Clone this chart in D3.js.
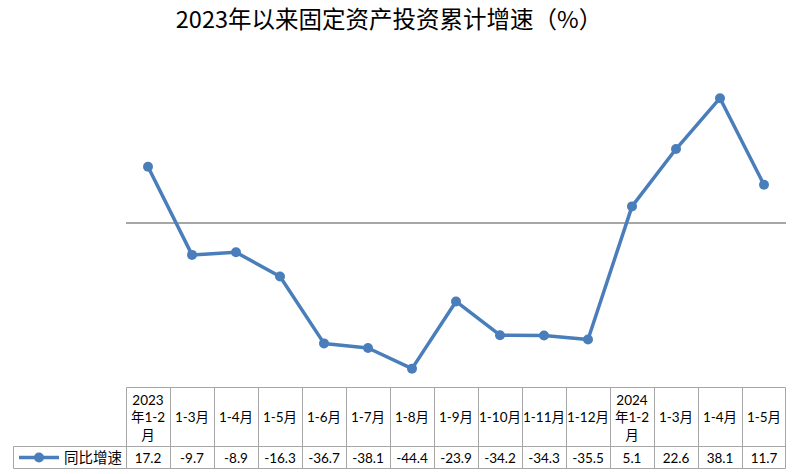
<!DOCTYPE html>
<html><head><meta charset="utf-8">
<script src="https://cdn.jsdelivr.net/npm/d3@7"></script>
<style>body{margin:0;background:#fff}svg{display:block}</style>
</head><body><svg id="c" width="800" height="474"></svg>
<script>
const title = "2023年以来固定资产投资累计增速（%）";
const seriesName = "同比增速";
const categories = [["2023","年1-2","月"],["1-3月"],["1-4月"],["1-5月"],["1-6月"],["1-7月"],["1-8月"],["1-9月"],["1-10月"],["1-11月"],["1-12月"],["2024","年1-2","月"],["1-3月"],["1-4月"],["1-5月"]];
const values = [17.2,-9.7,-8.9,-16.3,-36.7,-38.1,-44.4,-23.9,-34.2,-34.3,-35.5,5.1,22.6,38.1,11.7];

(function(){
const svg = d3.select("#c");
const font = "'Noto Sans CJK SC','Noto Sans',sans-serif";
const tfont = "Lato,'Noto Sans CJK SC',sans-serif";
const color = "#4a7ebb";
const gridColor = "#a6a6a6";

const x = d3.scaleBand().domain(d3.range(categories.length)).range([126,786]);
const y = d3.scaleLinear().domain([-50,40]).range([387,92]);

svg.append("text").attr("x",389).attr("y",28).attr("text-anchor","middle")
  .attr("font-family",font).attr("font-size",23.5).attr("fill","#000").text(title);

// zero line
svg.append("line").attr("x1",x.range()[0]).attr("x2",x.range()[1])
  .attr("y1",y(0)).attr("y2",y(0)).attr("stroke","#888").attr("stroke-width",1.5);

const line = d3.line().x((d,i)=>x(i)+x.bandwidth()/2).y(d=>y(d));
svg.append("path").datum(values).attr("d",line).attr("fill","none")
  .attr("stroke",color).attr("stroke-width",3.5).attr("stroke-linejoin","round");
svg.selectAll("circle.pt").data(values).join("circle").attr("class","pt")
  .attr("cx",(d,i)=>x(i)+x.bandwidth()/2).attr("cy",d=>y(d)).attr("r",5).attr("fill",color);

// table
const tTop = 387.5, tMid = 446.5, tBot = 468.5, legL = 13.5;
const g = svg.append("g").attr("stroke",gridColor).attr("stroke-width",1).attr("fill","none");
g.append("line").attr("x1",126.5).attr("x2",785.5).attr("y1",tTop).attr("y2",tTop);
g.append("line").attr("x1",legL).attr("x2",785.5).attr("y1",tMid).attr("y2",tMid);
g.append("line").attr("x1",legL).attr("x2",785.5).attr("y1",tBot).attr("y2",tBot);
g.append("line").attr("x1",legL).attr("x2",legL).attr("y1",tMid).attr("y2",tBot);
const bounds = x.domain().map(i=>Math.round(x(i))+0.5).concat([785.5]);
bounds.forEach(b=>g.append("line").attr("x1",b).attr("x2",b).attr("y1",tTop).attr("y2",tBot));

const tg = svg.append("g").attr("font-family",tfont).attr("font-size",13.5).attr("fill","#000").attr("text-anchor","middle");
categories.forEach((lines,i)=>{
  const cx = x(i)+x.bandwidth()/2;
  const lh = 17.5;
  const y0 = (tTop+tMid)/2 - (lines.length-1)*lh/2 + 5;
  lines.forEach((t,j)=>tg.append("text").attr("x",cx).attr("y",y0+j*lh).text(t));
});
values.forEach((v,i)=>{
  tg.append("text").attr("x",x(i)+x.bandwidth()/2).attr("y",(tMid+tBot)/2+5).text(v.toFixed(1));
});
// legend
const ly = (tMid+tBot)/2;
svg.append("line").attr("x1",19).attr("x2",59).attr("y1",ly).attr("y2",ly).attr("stroke",color).attr("stroke-width",3.5);
svg.append("circle").attr("cx",39).attr("cy",ly).attr("r",5).attr("fill",color);
svg.append("text").attr("x",64).attr("y",ly+5).attr("font-family",tfont).attr("font-size",14.5).attr("fill","#000").text(seriesName);
})();
</script></body></html>
